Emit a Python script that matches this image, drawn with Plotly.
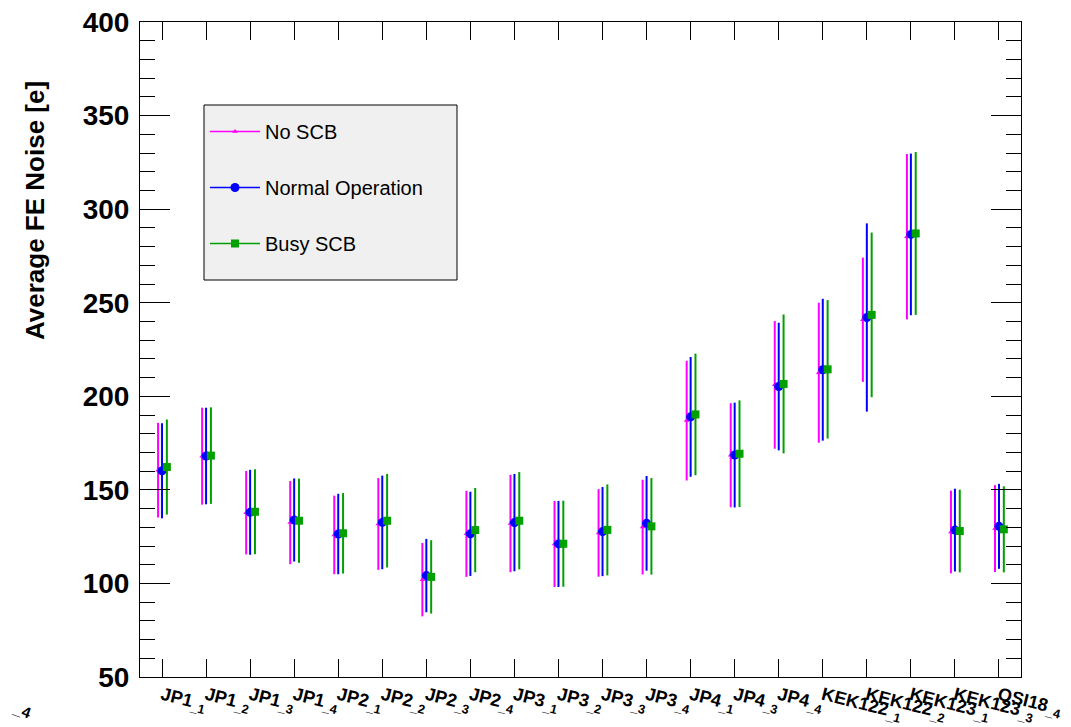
import plotly.graph_objects as go

# ---------------- data ----------------
categories = ["JP1_1", "JP1_2", "JP1_3", "JP1_4", "JP2_1", "JP2_2", "JP2_3", "JP2_4",
              "JP3_1", "JP3_2", "JP3_3", "JP3_4", "JP4_1", "JP4_3", "JP4_4",
              "KEK122_1", "KEK122_2", "KEK123_1", "KEK123_3", "QSI18_4"]

no_scb = [160.5, 168.0, 137.8, 132.5, 125.9, 131.8, 102.0, 126.5, 132.0, 121.1,
          127.0, 130.1, 187.0, 168.5, 206.1, 212.6, 240.9, 285.3, 127.5, 129.3]
no_scb_err = [25.3, 25.9, 22.3, 22.2, 21.0, 24.5, 19.6, 23.0, 26.0, 23.0,
              23.4, 25.3, 32.0, 27.8, 34.1, 37.4, 33.2, 44.2, 22.1, 23.2]

normal = [160.2, 168.1, 138.0, 133.9, 126.4, 132.6, 104.2, 126.5, 132.5, 121.1,
          127.7, 132.1, 189.0, 168.6, 205.2, 214.2, 242.1, 286.5, 128.5, 130.5]
normal_err = [25.4, 25.8, 22.7, 22.2, 21.5, 25.0, 19.6, 22.5, 26.0, 23.0,
              23.8, 25.3, 32.0, 28.0, 34.1, 37.9, 50.3, 43.2, 22.1, 22.7]

busy = [162.2, 168.3, 138.3, 133.5, 126.8, 133.5, 103.5, 128.5, 133.5, 121.2,
        128.6, 130.5, 190.3, 169.3, 206.6, 214.4, 243.5, 287.0, 128.0, 128.9]
busy_err = [25.4, 25.8, 22.7, 22.5, 21.5, 25.0, 19.6, 22.5, 26.0, 23.0,
            24.3, 25.8, 32.5, 28.5, 37.1, 37.0, 44.0, 43.5, 22.1, 23.0]

series_names = ["No SCB", "Normal Operation", "Busy SCB"]

# ---------------- styling ----------------
FONT = "Liberation Sans, Arial, Helvetica, sans-serif"
colors = ["#ff00ff", "#0000ff", "#00a000"]
symbols = ["triangle-up", "circle", "square"]
msizes = [5, 9, 8]
offsets = [-0.09, 0.0, 0.11]

# page body has an 8px margin: figure is sized so the plot frame lands where the original's is
W, H = 1063, 719
PL, PT, PW, PH = 140, 22, 881, 655   # plot frame in window pixels


def px_x(x):
    return (x - PL) / PW


def px_y(y):
    return (PT + PH - y) / PH


def tick_text(label):
    base, suffix = label.rsplit("_", 1)
    return f"{base}<sub>_{suffix}</sub>"


positions = list(range(1, len(categories) + 1))

fig = go.Figure()
for name, vals, errs, col, sym, ms, off in zip(
        series_names, [no_scb, normal, busy], [no_scb_err, normal_err, busy_err],
        colors, symbols, msizes, offsets):
    fig.add_trace(go.Scatter(
        x=[p + off for p in positions], y=vals, mode="markers",
        marker=dict(color=col, symbol=sym, size=ms, line=dict(width=0)),
        error_y=dict(type="data", array=errs, visible=True, color=col,
                     thickness=2, width=0),
        name=name, legendgroup=name, showlegend=False,
        customdata=categories, hovertemplate="%{customdata}: %{y}<extra>" + name + "</extra>"))
    # legend entry (line + marker, as in the original legend)
    fig.add_trace(go.Scatter(
        x=[None], y=[None], mode="lines+markers",
        marker=dict(color=col, symbol=sym, size=ms),
        line=dict(color=col, width=1.5),
        name=name, legendgroup=name, showlegend=True))

fig.update_layout(
    width=W, height=H,
    margin=dict(l=PL - 8, r=W - (PL - 8 + PW), t=PT - 8, b=H - (PT - 8 + PH), autoexpand=False),
    paper_bgcolor="white", plot_bgcolor="white",
    font=dict(family=FONT, color="black"),
    showlegend=True,
    legend=dict(x=px_x(205), y=px_y(112), xanchor="left", yanchor="top",
                bgcolor="rgba(0,0,0,0)", borderwidth=0,
                font=dict(size=20, family=FONT, color="black"),
                tracegroupgap=27, itemwidth=50),
    shapes=[dict(type="rect", xref="paper", yref="paper",
                 x0=px_x(204), x1=px_x(457), y0=px_y(280), y1=px_y(105),
                 fillcolor="#f0f0f0", line=dict(color="black", width=1),
                 layer="above")],
    annotations=[
        dict(text="<b>Average FE Noise [e]</b>", xref="paper", yref="paper",
             x=px_x(35), y=px_y(211), xanchor="center", yanchor="middle",
             textangle=-90, showarrow=False, font=dict(size=26, family=FONT, color="black")),
        dict(text="<b><sub>_4</sub></b>", xref="paper", yref="paper",
             x=px_x(8), y=px_y(710), xanchor="left", yanchor="middle",
             textangle=20, showarrow=False, font=dict(size=22, family=FONT, color="black")),
    ],
)

fig.update_xaxes(
    range=[0.5, len(categories) + 0.5], automargin=False,
    tickmode="array", tickvals=positions, ticktext=[tick_text(c) for c in categories],
    tickangle=14, ticks="inside", ticklen=18, tickcolor="black", tickwidth=1,
    showline=True, linecolor="black", linewidth=1, mirror="allticks",
    showgrid=False, zeroline=False, ticklabeloverflow="allow",
    tickfont=dict(size=18, family=FONT, color="black", weight="bold"),
)
fig.update_yaxes(
    range=[50, 400], tickmode="linear", tick0=50, dtick=50, automargin=False,
    ticks="inside", ticklen=30, tickcolor="black", tickwidth=1,
    minor=dict(dtick=10, ticks="inside", ticklen=15, tickcolor="black", tickwidth=1, showgrid=False),
    showline=True, linecolor="black", linewidth=1, mirror="allticks",
    showgrid=False, zeroline=False, ticklabeloverflow="allow",
    tickfont=dict(size=28, family=FONT, color="black", weight="bold"),
    ticklabelstandoff=4,
)

fig.write_html("out.html")
